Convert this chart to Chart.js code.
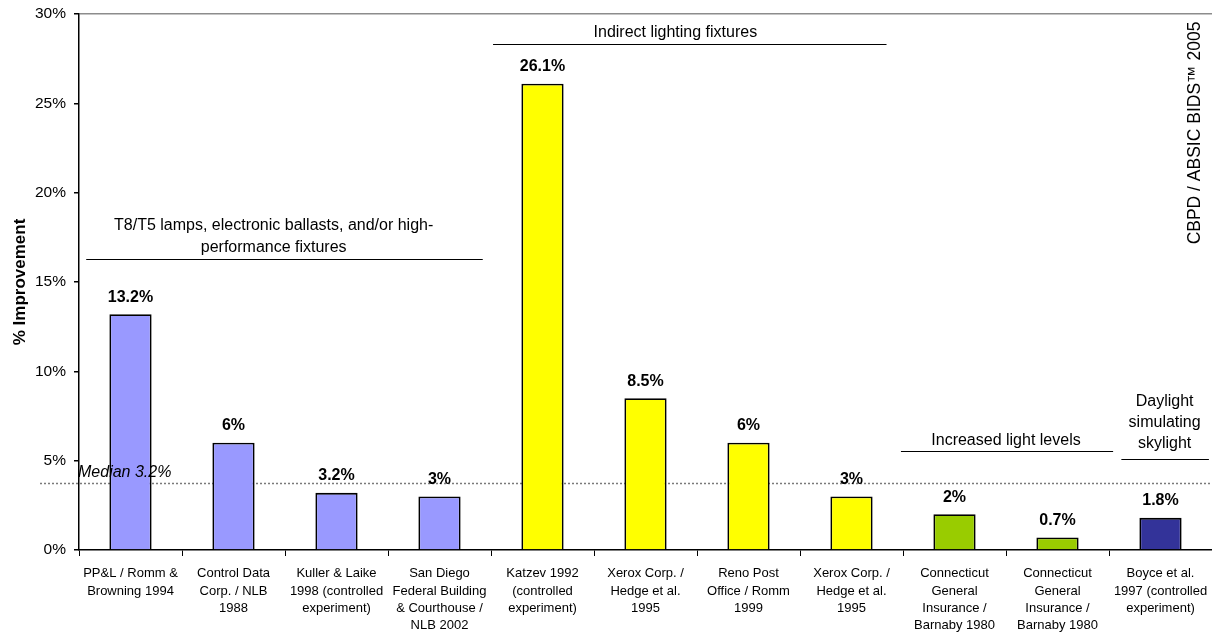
<!DOCTYPE html>
<html>
<head>
<meta charset="utf-8">
<title>Lighting improvement</title>
<script src="https://cdn.jsdelivr.net/npm/chart.js@4/dist/chart.umd.min.js"></script>
<style>
  html, body { margin: 0; padding: 0; background: #fff; }
  #wrap { width: 1212px; height: 635px; }
</style>
</head>
<body>
<div id="wrap"><canvas id="chart" width="1212" height="635"></canvas></div>
<script>
// categories (case studies), multi-line tick labels
const categories = [
  ['PP&L / Romm &', 'Browning 1994'],
  ['Control Data', 'Corp. / NLB', '1988'],
  ['Kuller & Laike', '1998 (controlled', 'experiment)'],
  ['San Diego', 'Federal Building', '& Courthouse /', 'NLB 2002'],
  ['Katzev 1992', '(controlled', 'experiment)'],
  ['Xerox Corp. /', 'Hedge et al.', '1995'],
  ['Reno Post', 'Office / Romm', '1999'],
  ['Xerox Corp. /', 'Hedge et al.', '1995'],
  ['Connecticut', 'General', 'Insurance /', 'Barnaby 1980'],
  ['Connecticut', 'General', 'Insurance /', 'Barnaby 1980'],
  ['Boyce et al.', '1997 (controlled', 'experiment)']
];
const improvement = [13.2, 6, 3.2, 3, 26.1, 8.5, 6, 3, 2, 0.7, 1.8];
const groupOfBar = [0, 0, 0, 0, 1, 1, 1, 1, 2, 2, 3];
const groupNames = [
  ['T8/T5 lamps, electronic ballasts, and/or high-', 'performance fixtures'],
  ['Indirect lighting fixtures'],
  ['Increased light levels'],
  ['Daylight', 'simulating', 'skylight']
];
const yTicks = [0, 5, 10, 15, 20, 25, 30];
const medianText = 'Median 3.2%';
const medianLevel = 3.75;
const credit = 'CBPD / ABSIC BIDS\u2122 2005';

// look
const groupColors = ['#9999FF', '#FFFF00', '#99CC00', '#333399'];
const FONT = '"Liberation Sans", Arial, sans-serif';
// where each group bracket sits (category units / % units)
const groupLayout = [
  { from: -0.43, to: 3.42, textAt: 1.39, level: 16.3, gap: 12, lh: 21.5 },
  { from: 3.52, to: 7.34, textAt: 5.29, level: 28.3, gap: 11.5, lh: 21.5 },
  { from: 7.48, to: 9.54, textAt: 8.5, level: 5.55, gap: 11, lh: 21.5 },
  { from: 9.62, to: 10.47, textAt: 10.04, level: 5.1, gap: 16, lh: 21.2 }
];

function medianY(chart) {
  return Math.round(chart.scales.y.getPixelForValue(medianLevel)) + 0.5;
}

const annotations = {
  id: 'annotations',
  beforeDatasetsDraw(chart) {
    // dotted median line sits behind the bars
    const ctx = chart.ctx, a = chart.chartArea;
    const py = medianY(chart);
    ctx.save();
    ctx.strokeStyle = '#7a7a7a';
    ctx.lineWidth = 1.5;
    ctx.setLineDash([2, 2]);
    ctx.beginPath();
    ctx.moveTo(40, py);
    ctx.lineTo(a.right, py);
    ctx.stroke();
    ctx.restore();
  },
  afterDatasetsDraw(chart) {
    const ctx = chart.ctx, x = chart.scales.x, y = chart.scales.y;
    ctx.save();
    ctx.fillStyle = '#000';
    ctx.textBaseline = 'middle';

    ctx.font = 'italic 16px ' + FONT;
    ctx.textAlign = 'left';
    ctx.fillText(medianText, 78, medianY(chart) - 11);

    ctx.textAlign = 'center';
    // value labels
    ctx.font = 'bold 16px ' + FONT;
    const meta = chart.getDatasetMeta(0);
    meta.data.forEach((bar, i) => {
      ctx.fillText(improvement[i] + '%', bar.x, bar.y - 17);
    });

    // group brackets
    ctx.font = '16px ' + FONT;
    ctx.strokeStyle = '#000';
    ctx.lineWidth = 1;
    groupLayout.forEach((g, gi) => {
      const ly = Math.round(y.getPixelForValue(g.level)) + 0.5;
      ctx.beginPath();
      ctx.moveTo(x.getPixelForValue(g.from), ly);
      ctx.lineTo(x.getPixelForValue(g.to), ly);
      ctx.stroke();
      const lines = groupNames[gi];
      const tx = x.getPixelForValue(g.textAt);
      lines.forEach((t, li) => {
        ctx.fillText(t, tx, ly - g.gap - (lines.length - 1 - li) * g.lh);
      });
    });

    // y axis title
    ctx.save();
    ctx.translate(20, 282);
    ctx.rotate(-Math.PI / 2);
    ctx.font = 'bold 17px ' + FONT;
    ctx.fillText('% Improvement', 0, 0);
    ctx.restore();

    // credit on the right
    ctx.save();
    ctx.translate(1195, 133);
    ctx.rotate(-Math.PI / 2);
    ctx.font = '17.5px ' + FONT;
    ctx.fillText(credit, 0, 0);
    ctx.restore();

    ctx.restore();
  }
};

new Chart(document.getElementById('chart').getContext('2d'), {
  type: 'bar',
  data: {
    labels: categories,
    datasets: [{
      data: improvement,
      backgroundColor: groupOfBar.map(g => groupColors[g]),
      borderColor: '#000',
      borderWidth: 1.8,
      categoryPercentage: 1,
      barPercentage: 0.41
    }]
  },
  options: {
    responsive: false,
    animation: false,
    layout: { padding: { top: 14, right: 0, bottom: 0, left: 0 } },
    plugins: { legend: { display: false }, tooltip: { enabled: false } },
    scales: {
      x: {
        afterFit: s => { s.height = 85; s.paddingLeft = 0; s.paddingRight = 0; },
        border: { color: '#000', width: 1.5 },
        grid: { offset: true, drawOnChartArea: false, color: '#000', tickLength: 6 },
        ticks: {
          color: '#000', autoSkip: false, maxRotation: 0, padding: 9,
          font: { family: FONT, size: 13, lineHeight: 1.33 }
        }
      },
      y: {
        min: 0, max: 30,
        afterFit: s => { s.width = 79; s.paddingTop = 0; s.paddingBottom = 0; },
        afterBuildTicks: s => { s.ticks = yTicks.map(v => ({ value: v })); },
        border: { color: '#000', width: 1.5 },
        grid: {
          color: c => (c.tick && c.tick.value === 30 ? '#8c8c8c' : 'rgba(0,0,0,0)'),
          tickColor: '#000', tickLength: 5, lineWidth: 1.5
        },
        ticks: {
          color: '#000', padding: 8,
          font: { family: FONT, size: 15.5 },
          callback: v => v + '%'
        }
      }
    }
  },
  plugins: [annotations]
});
</script>
</body>
</html>
